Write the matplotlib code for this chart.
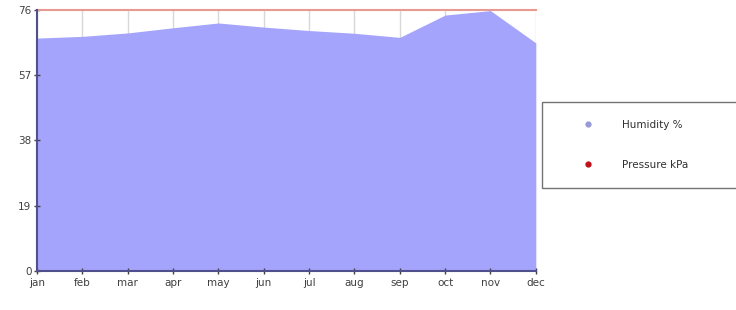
import matplotlib.pyplot as plt
from matplotlib.lines import Line2D

months = ['jan', 'feb', 'mar', 'apr', 'may', 'jun', 'jul', 'aug', 'sep', 'oct', 'nov', 'dec']
humidity = [67.8, 68.3, 69.3, 70.8, 72.2, 71.0, 70.0, 69.2, 68.0, 74.5, 75.8, 66.4]
pressure = [76, 76, 76, 76, 76, 76, 76, 76, 76, 76, 76, 76]
yticks = [0, 19, 38, 57, 76]

fig = plt.figure(figsize=(7.36, 3.10), dpi=100)
ax = fig.add_axes([0.0503, 0.126, 0.6777, 0.842])

x = list(range(len(months)))
# light vertical grid behind the fill
for xi in x:
    ax.axvline(xi, color='#d8d8d8', lw=1, zorder=0)
ax.fill_between(x, 0, humidity, color='#a4a4fc', lw=0, zorder=1)
ax.plot(x, pressure, color='#e89a92', lw=1.5, zorder=2, clip_on=False)

ax.set_xlim(0, 11)
ax.set_ylim(0, 76)
ax.set_xticks(x)
ax.set_xticklabels(months)
ax.set_yticks(yticks)
ax.tick_params(axis='both', labelsize=7.5, colors='#404040', length=4,
               direction='inout', width=1)
ax.tick_params(axis='x', pad=3)
ax.tick_params(axis='y', pad=2)
for s in ['top', 'right']:
    ax.spines[s].set_visible(False)
for s in ['left', 'bottom']:
    ax.spines[s].set_color('#50508c')
    ax.spines[s].set_linewidth(1.5)

handles = [
    Line2D([], [], ls='none', marker='o', ms=3.5, color='#9a9ad8'),
    Line2D([], [], ls='none', marker='o', ms=3.5, color='#c0101a'),
]
leg = fig.legend(handles, ['Humidity %', 'Pressure kPa'],
                 loc='upper left', bbox_to_anchor=(0.737, 0.394, 0.27, 0.277),
                 mode='expand', fancybox=False, borderaxespad=0,
                 fontsize=7.5, handletextpad=0.6, labelspacing=2.9,
                 borderpad=1.7, handlelength=5.3)
leg.get_frame().set_edgecolor('#505050')
leg.get_frame().set_linewidth(1)
for t in leg.get_texts():
    t.set_color('#303030')

fig.savefig('out.png', dpi=100)
